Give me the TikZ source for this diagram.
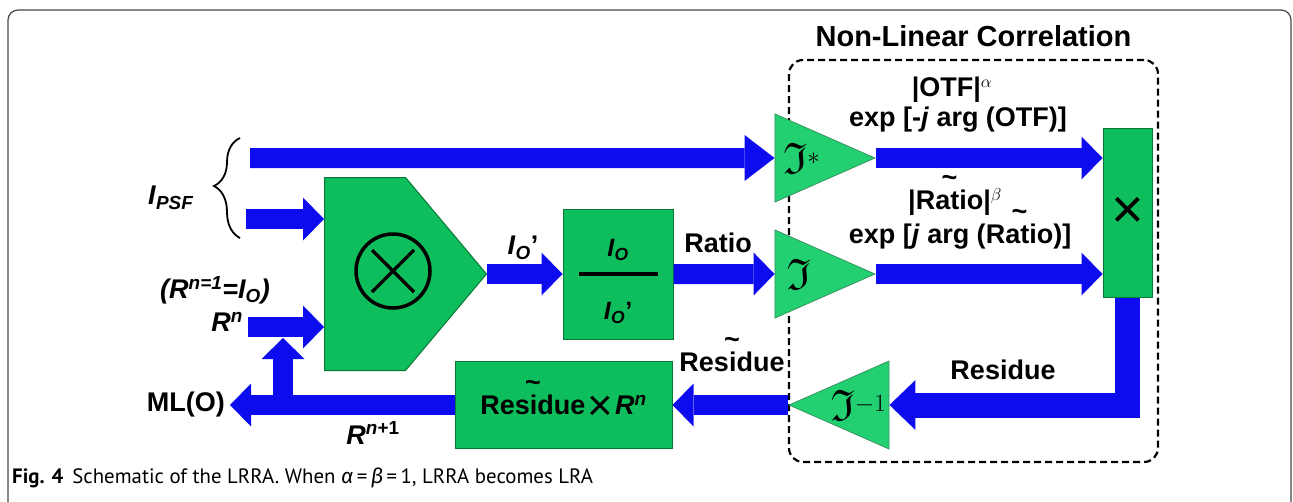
\documentclass[tikz,border=0pt]{standalone}
\usepackage{amssymb}
\usepackage{fontspec}
\setmainfont{Liberation Sans}
\newfontfamily\capfont{PT Sans}
\newfontfamily\grkfont{Fira Sans}
\usetikzlibrary{arrows.meta,positioning,shapes.geometric,shapes.symbols,decorations.pathreplacing}

% scalable fraktur
\DeclareFontFamily{U}{euf}{}
\DeclareFontShape{U}{euf}{m}{n}{<-6>eufm5<6-8>eufm7<8->eufm10}{}
\DeclareFontShape{U}{euf}{b}{n}{<-6>eufb5<6-8>eufb7<8->eufb10}{}

\definecolor{flowblue}{RGB}{12,12,238}
\definecolor{boxgreen}{RGB}{14,190,92}
\definecolor{trigreen}{RGB}{34,208,114}
\definecolor{edgegreen}{RGB}{8,120,55}
\definecolor{framegray}{RGB}{70,70,70}

% tilde centred over a word
\newcommand{\wavy}[1]{\setbox0\hbox{#1}\makebox[\wd0]{\raisebox{0.85em}[0pt][0pt]{\textasciitilde}}\kern-\wd0\box0}

\begin{document}
\begin{tikzpicture}[
  x=1pt, y=-1pt,
  lbl/.style={font=\fontsize{27}{31}\selectfont\bfseries, inner sep=0pt},
  greenbox/.style={draw=edgegreen, line width=1pt, fill=boxgreen, inner sep=0pt, font=\fontsize{27}{31}\selectfont\bfseries},
  mult/.style={signal, signal to=east, signal pointer angle=100, draw=edgegreen, line width=1pt, fill=boxgreen, minimum width=162pt, minimum height=193pt, inner sep=0pt},
  ftri/.style={isosceles triangle, isosceles triangle stretches, fill=trigreen, draw=edgegreen!80, line width=0.8pt, inner sep=0pt, minimum width=88pt, minimum height=100pt, font=\fontsize{44}{44}\selectfont},
  corrbox/.style={draw, dashed, dash pattern=on 7pt off 4pt, line width=2.2pt, rounded corners=14pt, minimum width=369pt, minimum height=402pt},
  flow/.style={draw=flowblue, line width=20pt, -{Triangle[length=21pt,width=43pt,line width=0pt]}},
  bigflow/.style={draw=flowblue, line width=25pt, -{Triangle[length=26pt,width=50pt,line width=0pt]}}
]
\useasboundingbox (0,0) rectangle (1293,501);
\begin{scope}
  \clip (0,0) rectangle (1293,501);
  \draw[framegray, line width=1.2pt, rounded corners=10pt] (8,10) rectangle (1291,540);
\end{scope}

% non-linear correlation block
\node[corrbox] (nlc) at (973.5,261) {};
\node[lbl, font=\fontsize{29}{33}\selectfont\bfseries, above=12pt of nlc] (nlctitle) {Non-Linear Correlation};

% blocks
\node[mult, anchor=west] (mult) at (324,274) {};
\draw[line width=3.5pt] (393,271) circle[radius=37];
\draw[line width=3.5pt] (372,250) -- (414,292) (372,292) -- (414,250);
\node[greenbox, minimum width=110pt, minimum height=130pt] (frac) at (618,274) {};
\node[lbl, font=\fontsize{25}{29}\selectfont\bfseries] (fnum) at ([yshift=24pt]frac.center) {\textit{I}\textsubscript{\textit{O}}};
\node[lbl, font=\fontsize{25}{29}\selectfont\bfseries] (fden) at ([yshift=-39pt]frac.center) {\textit{I}\textsubscript{\textit{O}}’};
\draw[line width=4pt] ([xshift=-39pt]frac.center) -- ([xshift=40pt]frac.center);
\node[greenbox, minimum width=217pt, minimum height=87pt] (resbox) at (563.5,405) {\wavy{Residue}\hspace{2pt}\raisebox{-6pt}[0pt][0pt]{\mdseries\fontsize{44}{44}\selectfont ×}\hspace{2pt}\textit{R}\textsuperscript{\textit{n}}};
\node[greenbox, minimum width=49pt, minimum height=169pt, font=\fontsize{56}{56}\selectfont] (prod) at (1127.5,212.5) {×};
\node[ftri, anchor=apex] (tstar) at (876,158) {$\mathfrak{I}^{*}$};
\node[ftri, anchor=apex] (tfour) at (876,274) {$\mathfrak{I}$};
\node[ftri, shape border rotate=180, anchor=apex] (tinv) at (788,405) {$\mathfrak{I}^{-1}$};

% labels
\node[lbl, anchor=east] (ipsf) at (194,198) {\textit{I}\textsubscript{\textit{PSF}}};
\draw[decorate, decoration={brace, amplitude=26pt, aspect=0.52}, line width=1.8pt] (240,238) -- (240,138);
\node[lbl] (initlbl) at (215,290) {\itshape (R\textsuperscript{n=1}=I\textsubscript{O})};
\node[lbl, anchor=east] (rnlbl) at (243,322) {\textit{R}\textsuperscript{\textit{n}}};
\node[lbl, anchor=east, inner xsep=5pt] (mlo) at (230,405) {ML(O)};
\node[lbl] (rn1lbl) at (373,433) {\textit{R}\textsuperscript{\textit{n}+1}};
\node[lbl] (iolbl) at (523,248) {\textit{I}\textsubscript{\textit{O}}’};
\node[lbl] (ratiolbl) at (718,243) {Ratio};
\node[lbl] (restlbl) at (732,362) {\wavy{Residue}};
\node[lbl] (reslbl) at (1003,370) {Residue};
\node[lbl] (otfmag) at (952,90) {|OTF|$^{\alpha}$};
\node[lbl] (otfexp) at (958,120) {exp [-\textit{j} arg (OTF)]};
\node[lbl] (ratmag) at (955,202) {|\wavy{Ratio}|$^{\beta}$};
\node[lbl] (ratexp) at (960,237) {exp [\textit{j} arg (\wavy{Ratio})]};

% connectors
\coordinate (psftop) at (250,158);
\coordinate (psfmid) at (246,219);
\coordinate (rnin) at (248,327);
\coordinate (fork) at (283,405);
\coordinate (feed) at (283,338);
\draw[flow, -{Triangle[length=30pt,width=46pt,line width=0pt]}] (psftop) -- (tstar.west);
\draw[flow] (psfmid) -- (psfmid -| mult.west);
\draw[flow] (rnin) -- (rnin -| mult.west);
\draw[flow] (tstar.apex) -- (tstar.apex -| prod.west);
\draw[flow] (tfour.apex) -- (tfour.apex -| prod.west);
\draw[bigflow] (prod.south) |- (tinv.east);
\draw[flow] (tinv.apex) -- (tinv.apex -| resbox.east);
\foreach \a/\b in {mult.east/frac.west,frac.east/tfour.west,resbox.west/mlo.east,fork/feed} \draw[flow] (\a) -- (\b);

% caption
\node[anchor=west, inner sep=0pt, font=\capfont\fontsize{20.8}{24}\selectfont] (caption) at (12,478) {\textbf{Fig. 4}\hspace{9pt}Schematic of the LRRA. When {\grkfont\itshape α}\,=\,{\grkfont\itshape β}\,=\,1, LRRA becomes LRA};
\end{tikzpicture}
\end{document}
